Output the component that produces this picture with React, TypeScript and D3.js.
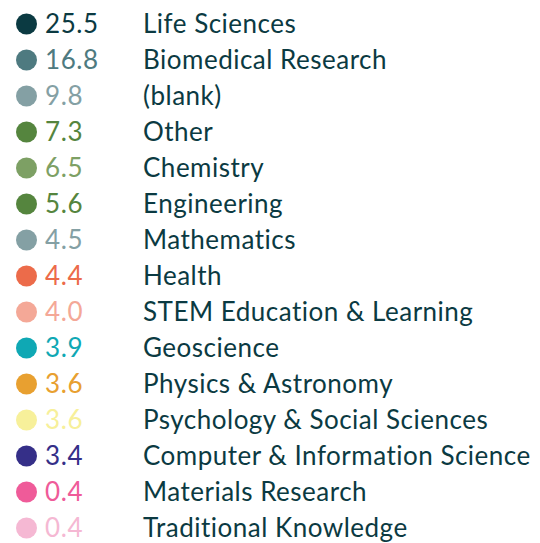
import * as d3 from 'd3';

const categories = [
  'Life Sciences',
  'Biomedical Research',
  '(blank)',
  'Other',
  'Chemistry',
  'Engineering',
  'Mathematics',
  'Health',
  'STEM Education & Learning',
  'Geoscience',
  'Physics & Astronomy',
  'Psychology & Social Sciences',
  'Computer & Information Science',
  'Materials Research',
  'Traditional Knowledge',
];

const values = [25.5, 16.8, 9.8, 7.3, 6.5, 5.6, 4.5, 4.4, 4.0, 3.9, 3.6, 3.6, 3.4, 0.4, 0.4];

const colors = [
  '#0b3a42', '#4e7a80', '#84a0a4', '#55853e', '#7da064',
  '#55853e', '#84a0a4', '#ec6b4a', '#f4a897', '#0fa8b4',
  '#e8a030', '#f7f09a', '#352f88', '#ef5b99', '#f5b8d3',
];

export default function App() {
  const width = 540;
  const height = 543;

  // one row per category, 36px apart, first row centred at y=24
  const y = d3
    .scalePoint<string>()
    .domain(categories)
    .range([24, 24 + 36 * (categories.length - 1)]);

  const fmt = d3.format('.1f');
  const font = 'Lato, "Noto Sans", sans-serif';

  return (
    <svg
      width={width}
      height={height}
      style={{ position: 'absolute', left: 0, top: 0 }}
    >
      <rect width={width} height={height} fill="#ffffff" />
      {categories.map((c, i) => (
        <g key={c} transform={`translate(0,${y(c)})`}>
          <circle cx={26.5} cy={0} r={10.5} fill={colors[i]} />
          <text
            x={45}
            y={0}
            dy="0.35em"
            fill={colors[i]}
            fontFamily={font}
            fontSize={26}
            letterSpacing={0.6}
          >
            {fmt(values[i])}
          </text>
          <text
            x={143}
            y={0}
            dy="0.35em"
            fill="#0b3a42"
            fontFamily={font}
            fontSize={26}
            letterSpacing={0.5}
          >
            {c}
          </text>
        </g>
      ))}
    </svg>
  );
}
